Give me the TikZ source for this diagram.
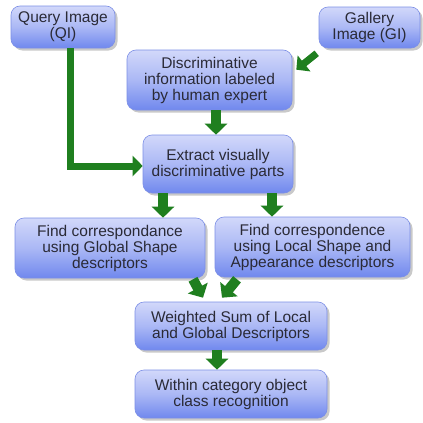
\documentclass[tikz,border=0pt]{standalone}
\usepackage{fontspec}
\setmainfont{Liberation Sans}
\usetikzlibrary{shadows,arrows.meta,calc}
\definecolor{boxtop}{HTML}{D2D8FA}
\definecolor{boxbot}{HTML}{7088EE}
\definecolor{boxborder}{HTML}{7C8FE6}
\definecolor{txt}{HTML}{2A2A36}
\definecolor{arrowgreen}{HTML}{1F7F1F}
\tikzset{
  flowbox/.style={draw=boxborder, line width=0.6pt, rounded corners=9pt,
    top color=boxtop, bottom color=boxbot, middle color=boxtop!60!boxbot,
    drop shadow={shadow xshift=2.5pt, shadow yshift=-2.5pt, opacity=0.35, fill=black!60},
    text=txt, align=center, inner sep=0pt,
    font=\fontsize{15.5}{16}\selectfont},
  blockarrow/.style={draw=arrowgreen, line width=10pt,
    -{Triangle[width=22pt,length=11pt]}},
  thinblock/.style={draw=arrowgreen, line width=7pt,
    -{Triangle[width=20pt,length=10pt]}}
}
\begin{document}
\begin{tikzpicture}[x=1pt,y=-1pt]
\useasboundingbox (0,0) rectangle (423,423);
\fill[white] (0,0) rectangle (423,423);
% boxes
\node[flowbox, minimum width=104pt, minimum height=42pt] (qi) at (63,27) {Query Image\\(QI)};
\node[flowbox, minimum width=101pt, minimum height=41pt] (gi) at (369.5,27.5) {Gallery\\Image (GI)};
\node[flowbox, minimum width=165pt, minimum height=60pt] (disc) at (209.5,80) {Discriminative\\information labeled\\by human expert};
\node[flowbox, minimum width=150pt, minimum height=58pt] (ext) at (218,164) {Extract visually\\discriminative parts};
\node[flowbox, minimum width=190pt, minimum height=60pt] (left) at (110,248) {Find correspondance\\using Global Shape\\descriptors};
\node[flowbox, minimum width=195pt, minimum height=60pt] (right) at (312.5,247) {Find correspondence\\using Local Shape and\\Appearance descriptors};
\node[flowbox, minimum width=192pt, minimum height=48pt] (wsum) at (231,326) {Weighted Sum of Local\\and Global Descriptors};
\node[flowbox, minimum width=192pt, minimum height=48pt] (within) at (231,394) {Within category object\\class recognition};
% connectors
\coordinate (bend) at (70,166);
\draw[thinblock] ([xshift=7pt]qi.south) -- (bend) -- (ext.west |- bend);
\draw[thinblock] ([xshift=-2pt,yshift=-5pt]gi.south west) -- ([xshift=4pt,yshift=-20pt]disc.north east);
\draw[blockarrow] ([xshift=6.5pt]disc.south) -- ([xshift=-2pt]ext.north);
\draw[blockarrow] ([xshift=-55pt]ext.south) -- ([xshift=53pt]left.north);
\draw[blockarrow] ([xshift=54pt]ext.south) -- ([xshift=-40.5pt]right.north);
\draw[blockarrow] ([xshift=83pt,yshift=-1pt]left.south) -- ([xshift=-28pt,yshift=4pt]wsum.north);
\draw[blockarrow] ([xshift=-75.5pt,yshift=-2pt]right.south) -- ([xshift=-9pt,yshift=4pt]wsum.north);
\draw[blockarrow] ([xshift=-14pt]wsum.south) -- ([xshift=-14pt]within.north);
\end{tikzpicture}
\end{document}
